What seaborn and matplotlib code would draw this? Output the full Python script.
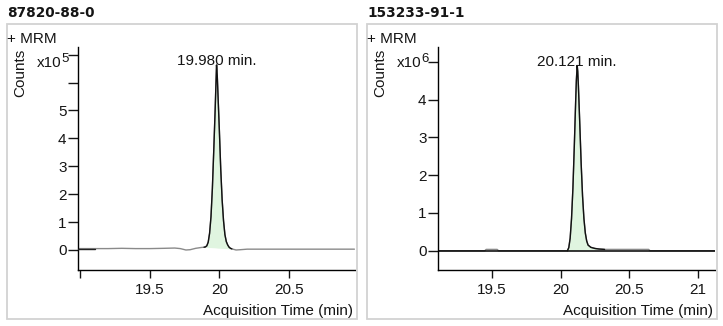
import numpy as np
import pandas as pd
import matplotlib
matplotlib.use("Agg")
import matplotlib.pyplot as plt
from matplotlib.patches import Rectangle
import seaborn as sns

# ---- compounds and labels -------------------------------------------------
compounds = ["87820-88-0", "153233-91-1"]
retention_times = [19.980, 20.121]
scan_label = "+ MRM"
y_label = "Counts"
x_label = "Acquisition Time (min)"
count_exponents = ["5", "6"]

# ---- 87820-88-0 trace (counts x 1e5) --------------------------------------
left_time = [18.98, 19.05, 19.11, 19.20, 19.30, 19.40, 19.50, 19.60, 19.68,
             19.72, 19.76, 19.79, 19.83, 19.87, 19.89, 19.90, 19.91, 19.92,
             19.93, 19.94, 19.95, 19.96, 19.97, 19.975, 19.98, 19.985, 19.99,
             20.00, 20.01, 20.02, 20.03, 20.04, 20.05, 20.06, 20.07, 20.08,
             20.09, 20.12, 20.15, 20.20, 20.30, 20.50, 20.70, 20.97]
left_counts = [0.05, 0.05, 0.05, 0.05, 0.06, 0.05, 0.05, 0.06, 0.07,
               0.05, 0.00, 0.01, 0.06, 0.09, 0.10, 0.11, 0.15, 0.28,
               0.60, 1.19, 2.21, 3.58, 5.04, 5.85, 6.63, 6.25, 5.60,
               4.30, 2.90, 1.80, 1.05, 0.55, 0.30, 0.18, 0.10, 0.06,
               0.04, 0.00, 0.01, 0.03, 0.03, 0.03, 0.03, 0.03]
left_peak_window = [19.89, 20.09]
left_dark_lead = [18.98, 19.11]

# ---- 153233-91-1 trace (counts x 1e6) -------------------------------------
right_time = [19.11, 19.20, 19.30, 19.40, 19.45, 19.46, 19.54, 19.55, 19.70,
              19.85, 20.00, 20.04, 20.05, 20.06, 20.07, 20.08, 20.09, 20.10,
              20.11, 20.115, 20.121, 20.125, 20.13, 20.14, 20.15, 20.16, 20.17,
              20.18, 20.19, 20.20, 20.22, 20.25, 20.28, 20.30, 20.32, 20.34,
              20.50, 20.64, 20.65, 20.80, 21.00, 21.12]
right_counts = [0.0, 0.0, 0.0, 0.0, 0.0, 0.035, 0.035, 0.0, 0.0,
                0.0, 0.0, 0.0, 0.0, 0.08, 0.33, 0.85, 1.65, 2.75,
                3.95, 4.50, 4.90, 4.75, 4.35, 3.35, 2.30, 1.45, 0.85,
                0.47, 0.26, 0.15, 0.09, 0.06, 0.045, 0.04, 0.035, 0.035,
                0.035, 0.035, 0.0, 0.0, 0.0, 0.0]
right_peak_window = [20.05, 20.32]

# ---- axis ticks ------------------------------------------------------------
left_yticks = [0, 1, 2, 3, 4, 5, 6, 7]
left_yticklabels = ["0", "1", "2", "3", "4", "5", "", ""]
right_yticks = [0, 1, 2, 3, 4, 5]
right_yticklabels = ["0", "1", "2", "3", "4", ""]
left_xticks = [19.0, 19.5, 20.0, 20.5]
left_xticklabels = ["", "19.5", "20", "20.5"]
right_xticks = [19.5, 20.0, 20.5, 21.0]
right_xticklabels = ["19.5", "20", "20.5", "21"]

# ---- styling ----------------------------------------------------------------
sns.set_style("ticks")
plt.rcParams["font.family"] = ["Liberation Sans", "DejaVu Sans"]
TEXT = "#151515"
TRACE = "#8a8a8a"
FILL = "#e0f5e0"
BORDER = "#d2d2d2"
FS = 11

W, H = 723, 326
fig = plt.figure(figsize=(W / 100, H / 100), dpi=100)


def fx(px):
    return px / W


def fy(py):
    return 1 - py / H


panels = [
    dict(name=compounds[0], rt=retention_times[0], exp=count_exponents[0],
         t=left_time, c=left_counts, win=left_peak_window, lead=left_dark_lead,
         ylim=(-0.717, 7.276), xlim=(18.983, 20.974),
         yt=left_yticks, ytl=left_yticklabels, xt=left_xticks, xtl=left_xticklabels,
         ox=0, zero_line=False),
    dict(name=compounds[1], rt=retention_times[1], exp=count_exponents[1],
         t=right_time, c=right_counts, win=right_peak_window, lead=None,
         ylim=(-0.51, 5.39), xlim=(19.108, 21.122),
         yt=right_yticks, ytl=right_yticklabels, xt=right_xticks, xtl=right_xticklabels,
         ox=360, zero_line=True),
]

for p in panels:
    ox = p["ox"]
    # panel frame
    fig.patches.append(Rectangle((fx(6.7 + ox), fy(319.3)), fx(349.8), (319.3 - 24.3) / H,
                                 transform=fig.transFigure, fill=False,
                                 edgecolor=BORDER, linewidth=1.3, zorder=0))
    fig.text(fx(7 + ox), fy(17.3), p["name"], family="DejaVu Sans", weight="bold",
             fontsize=9.8, color=TEXT, ha="left", va="baseline")
    fig.text(fx(7.3 + ox), fy(43), scan_label, fontsize=FS, color=TEXT,
             ha="left", va="baseline")
    fig.text(fx(20 + ox), fy(73), y_label, fontsize=FS, color=TEXT,
             rotation=90, ha="center", va="center")
    fig.text(fx(61 + ox), fy(67), "x10", fontsize=FS, color=TEXT,
             ha="right", va="baseline")
    fig.text(fx(61 + ox), fy(62), p["exp"], fontsize=9.5, color=TEXT,
             ha="left", va="baseline")
    fig.text(fx(353.3 + ox), fy(315), x_label, fontsize=FS, color=TEXT,
             ha="right", va="baseline")

    ax = fig.add_axes([fx(77.7 + ox), fy(270), fx(277.3), (270 - 47) / H])
    ax.set_facecolor("white")
    df = pd.DataFrame({"time": p["t"], "counts": p["c"]})

    sns.lineplot(data=df, x="time", y="counts", ax=ax, color=TRACE, lw=1.0,
                 sort=False, estimator=None, zorder=2)
    if p["zero_line"]:
        ax.axhline(0, color="black", lw=1.1, zorder=3)
    if p["lead"] is not None:
        lead = df[(df.time >= p["lead"][0]) & (df.time <= p["lead"][1])]
        sns.lineplot(data=lead, x="time", y="counts", ax=ax, color="#222222",
                     lw=1.0, sort=False, estimator=None, zorder=3)

    peak = df[(df.time >= p["win"][0]) & (df.time <= p["win"][1])]
    base = np.linspace(peak.counts.iloc[0], peak.counts.iloc[-1], len(peak))
    ax.fill_between(peak.time, peak.counts, base, color=FILL, lw=0, zorder=1)
    sns.lineplot(data=peak, x="time", y="counts", ax=ax, color="#111111",
                 lw=1.0, sort=False, estimator=None, zorder=4)

    apex = peak.counts.max()
    ax.text(p["rt"], apex, f"{p['rt']:.3f} min.", fontsize=FS, color=TEXT,
            ha="center", va="baseline", zorder=5)

    ax.set_xlim(*p["xlim"])
    ax.set_ylim(*p["ylim"])
    ax.set_yticks(p["yt"])
    ax.set_yticklabels(p["ytl"])
    ax.set_xticks(p["xt"])
    ax.set_xticklabels(p["xtl"])
    ax.set_xlabel("")
    ax.set_ylabel("")
    ax.tick_params(axis="y", length=7, width=1.0, pad=1, labelsize=FS,
                   colors=TEXT, direction="out")
    ax.tick_params(axis="x", length=6, width=1.0, pad=3, labelsize=FS,
                   colors=TEXT, direction="out")
    for s in ["top", "right"]:
        ax.spines[s].set_visible(False)
    for s in ["left", "bottom"]:
        ax.spines[s].set_color("black")
        ax.spines[s].set_linewidth(1.0)

fig.savefig("out.png", dpi=100, facecolor="white")
